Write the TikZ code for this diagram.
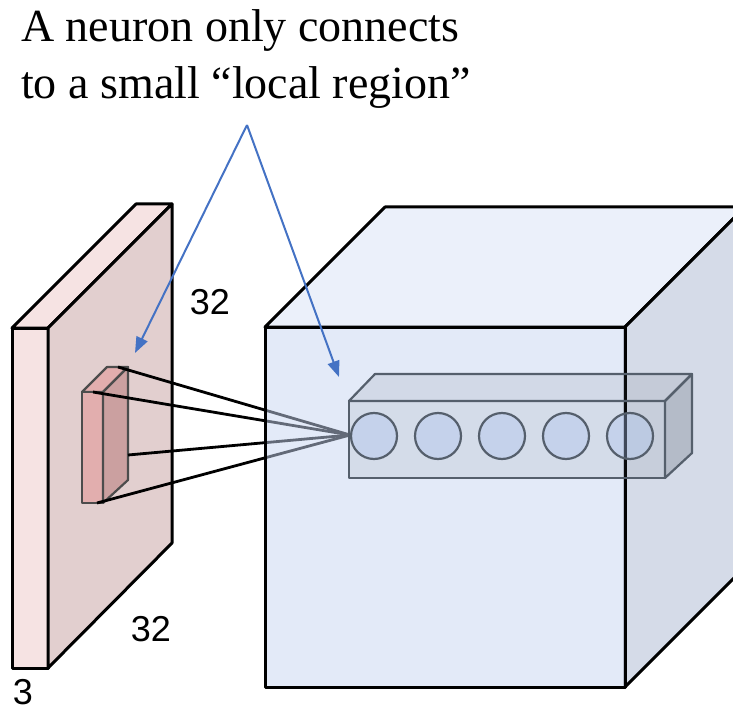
\documentclass[tikz,border=0pt]{standalone}
\usepackage{fontspec}
\setmainfont{Liberation Serif}
\setsansfont{Liberation Sans}
\usetikzlibrary{arrows.meta}
\definecolor{slabfront}{RGB}{246,227,227}
\definecolor{slabside}{RGB}{226,207,207}
\definecolor{patchfront}{RGB}{226,174,174}
\definecolor{patchside}{RGB}{203,160,160}
\definecolor{cubefront}{RGB}{199,213,241}
\definecolor{cubetop}{RGB}{235,240,250}
\definecolor{cubeside}{RGB}{213,219,232}
\definecolor{rowedge}{RGB}{85,95,108}
\definecolor{cellfill}{RGB}{170,195,240}
\definecolor{arrowblue}{RGB}{68,114,196}
\tikzset{
  >={Triangle[length=16pt,width=12pt]},
  face/.style={draw=black,line width=3pt,line join=round,fill=#1},
  face/.default=white,
  patch/.style={draw=black!70,line width=2.2pt,line join=round,fill=#1},
  rowface/.style={draw=rowedge,line width=2.2pt,line join=round,fill=rowedge,fill opacity=#1},
  cell/.style={circle,draw=rowedge,line width=2.2pt,fill=cellfill,fill opacity=0.35,
    minimum size=46pt,inner sep=0pt},
  wire/.style={black,line width=2.8pt},
  callout/.style={->,arrowblue,line width=2pt},
  dim/.style={font=\sffamily\fontsize{36}{36}\selectfont,inner sep=0pt},
}

\begin{document}
\begin{tikzpicture}[x=1pt,y=-1pt]
  \useasboundingbox (0,0) rectangle (733,711);
  % input slab
  \draw[face=slabfront] (12,328) -- (136,204) -- (172,204) -- (48,328) -- cycle;
  \draw[face=slabfront] (12,328) rectangle (48,668);
  \draw[face=slabside] (48,328) -- (172,204) -- (172,543) -- (48,668) -- cycle;
  % receptive field
  \draw[patch=patchfront] (82,392) -- (107,367) -- (128,367) -- (103,392) -- cycle;
  \draw[patch=patchfront] (82,392) rectangle (103,503);
  \draw[patch=patchside] (103,392) -- (128,367) -- (128,480) -- (103,503) -- cycle;
  \coordinate (p1) at (118,367);
  \coordinate (p2) at (93,392);
  \coordinate (p3) at (128,455);
  \coordinate (p4) at (97,503);
  \coordinate (hub) at (350,435);
  \foreach \p in {p1,p2,p3,p4} \draw[wire] (\p) -- (hub);
  % output volume
  \draw[face=cubetop] (265,327) -- (385,207) -- (745,207) -- (625,327) -- cycle;
  \draw[face=cubeside] (625,327) -- (745,207) -- (745,567) -- (625,687) -- cycle;
  \draw[face=cubefront,fill opacity=0.5] (265,327) rectangle (625,687);
  % column of neurons
  \draw[rowface=0.12] (349,401) -- (375,374) -- (692,374) -- (665,401) -- cycle;
  \draw[rowface=0.1] (349,401) rectangle (665,478);
  \draw[rowface=0.25] (665,401) -- (692,374) -- (692,453) -- (665,478) -- cycle;
  \foreach \x [count=\i] in {374,438,502,566,630}
    \node[cell] (c\i) at (\x,436) {};
  % dimensions
  \node[dim] (w) at (210,302) {32};
  \node[dim] (h) at (151,629) {32};
  \node[dim] (d) at (23,692) {3};
  % caption and pointers
  \node[align=left,anchor=north west,inner sep=0pt,font=\fontsize{46}{57}\selectfont] (note) at (21,9)
    {A neuron only connects\\to a small “local region”};
  \coordinate (apex) at (247,125);
  \coordinate (tipa) at (135,353);
  \coordinate (tipb) at (339,377);
  \draw[callout] (apex) -- (tipa);
  \draw[callout] (apex) -- (tipb);
\end{tikzpicture}
\end{document}
